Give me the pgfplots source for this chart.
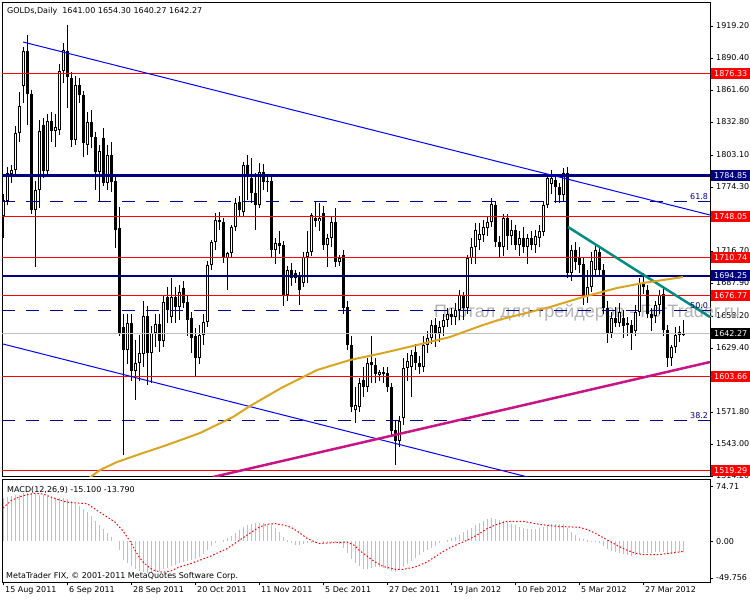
\documentclass[border=0pt]{standalone}
\usepackage{fontspec}
\setmainfont{DejaVu Sans}
\newfontfamily\wmfont{Liberation Sans}
\usepackage{pgfplots}
\pgfplotsset{compat=1.18}
\usepackage{pgfplotstable}

\definecolor{mtnavy}{RGB}{0,0,128}
\definecolor{mtblue}{RGB}{0,0,255}
\definecolor{mtgold}{RGB}{218,165,32}
\definecolor{mtmag}{RGB}{199,21,133}
\definecolor{mtteal}{RGB}{0,140,130}
\definecolor{mtsilver}{RGB}{192,192,192}
\definecolor{wmgray}{RGB}{180,180,180}
\newcommand\mtfont{\fontsize{8}{9.6}\selectfont}

% daily bars: index, open, high, low, close
\pgfplotstableread{
i o h l c
0 1748 1768 1728 1763
1 1762 1792 1758 1787
2 1786 1794 1778 1790
3 1790 1829 1786 1823
4 1823 1860 1815 1847
5 1865 1900 1850 1897
6 1897 1911 1830 1858
7 1858 1862 1750 1754
8 1754 1780 1702 1772
9 1772 1835 1755 1825
10 1830 1836 1782 1789
11 1789 1840 1784 1834
12 1834 1842 1815 1825
13 1825 1840 1810 1828
14 1826 1885 1821 1879
15 1879 1904 1868 1898
16 1897 1920 1845 1873
17 1872 1878 1810 1817
18 1817 1874 1812 1866
19 1866 1872 1850 1857
20 1857 1861 1801 1814
21 1812 1842 1803 1833
22 1833 1844 1809 1819
23 1819 1824 1772 1788
24 1788 1812 1761 1807
25 1818 1827 1775 1778
26 1778 1812 1772 1803
27 1803 1815 1770 1779
28 1780 1783 1719 1736
29 1737 1756 1640 1643
30 1648 1660 1533 1628
31 1628 1660 1615 1652
32 1652 1660 1600 1609
33 1609 1637 1583 1616
34 1616 1641 1600 1625
35 1624 1672 1612 1658
36 1658 1667 1596 1625
37 1625 1649 1598 1643
38 1643 1660 1630 1651
39 1651 1660 1626 1636
40 1636 1677 1630 1671
41 1675 1684 1652 1664
42 1657 1692 1652 1675
43 1675 1684 1652 1666
44 1666 1686 1655 1680
45 1683 1690 1665 1670
46 1671 1676 1640 1655
47 1656 1662 1625 1638
48 1640 1647 1603 1620
49 1620 1650 1615 1641
50 1641 1660 1632 1653
51 1653 1708 1648 1704
52 1704 1727 1700 1725
53 1725 1751 1718 1745
54 1745 1752 1736 1743
55 1743 1746 1706 1710
56 1710 1716 1682 1715
57 1715 1740 1710 1738
58 1738 1764 1735 1760
59 1761 1766 1748 1754
60 1752 1797 1748 1794
61 1794 1803 1763 1783
62 1782 1800 1760 1769
63 1769 1787 1736 1758
64 1758 1796 1755 1788
65 1788 1795 1772 1779
66 1780 1786 1770 1779
67 1780 1784 1710 1718
68 1718 1728 1705 1724
69 1724 1735 1714 1721
70 1722 1726 1667 1677
71 1677 1703 1672 1700
72 1700 1706 1685 1692
73 1697 1700 1688 1692
74 1695 1698 1668 1682
75 1688 1716 1684 1711
76 1711 1735 1688 1716
77 1716 1751 1712 1749
78 1746 1762 1738 1744
79 1744 1760 1735 1746
80 1751 1757 1718 1722
81 1722 1732 1702 1728
82 1728 1748 1720 1743
83 1743 1755 1702 1707
84 1707 1713 1703 1710
85 1713 1718 1660 1665
86 1666 1672 1628 1632
87 1632 1640 1572 1576
88 1574 1594 1562 1578
89 1576 1602 1572 1598
90 1601 1612 1585 1594
91 1594 1620 1590 1616
92 1617 1640 1598 1614
93 1614 1620 1598 1606
94 1605 1610 1600 1608
95 1608 1612 1598 1606
96 1607 1612 1590 1594
97 1594 1598 1550 1555
98 1556 1565 1524 1546
99 1546 1568 1540 1564
100 1566 1620 1560 1611
101 1611 1625 1600 1618
102 1612 1628 1585 1623
103 1626 1633 1610 1616
104 1616 1622 1606 1612
105 1612 1640 1608 1632
106 1632 1645 1625 1638
107 1638 1655 1633 1650
108 1650 1656 1630 1643
109 1643 1654 1635 1648
110 1648 1660 1640 1655
111 1655 1665 1648 1660
112 1660 1665 1650 1657
113 1657 1670 1650 1664
114 1664 1682 1655 1677
115 1677 1680 1655 1665
116 1665 1713 1660 1710
117 1710 1728 1705 1720
118 1720 1742 1705 1736
119 1727 1742 1718 1732
120 1731 1745 1725 1738
121 1737 1748 1730 1743
122 1743 1764 1738 1759
123 1758 1762 1720 1725
124 1725 1730 1710 1720
125 1720 1750 1712 1746
126 1746 1750 1718 1730
127 1730 1745 1722 1736
128 1736 1740 1718 1722
129 1722 1735 1712 1728
130 1728 1738 1715 1720
131 1720 1732 1705 1728
132 1728 1735 1718 1722
133 1722 1736 1715 1730
134 1728 1740 1720 1735
135 1734 1762 1730 1758
136 1758 1785 1755 1782
137 1777 1790 1768 1782
138 1781 1784 1760 1774
139 1774 1778 1760 1767
140 1767 1791 1762 1787
141 1787 1792 1692 1697
142 1697 1722 1690 1718
143 1718 1725 1700 1707
144 1710 1720 1697 1704
145 1705 1710 1668 1676
146 1676 1700 1670 1684
147 1684 1716 1680 1708
148 1700 1722 1695 1718
149 1716 1720 1695 1700
150 1700 1705 1660 1665
151 1665 1672 1634 1643
152 1643 1662 1638 1656
153 1656 1666 1648 1652
154 1652 1670 1648 1662
155 1656 1664 1638 1649
156 1652 1657 1640 1650
157 1650 1655 1628 1643
158 1645 1668 1640 1662
159 1662 1692 1658 1688
160 1688 1697 1678 1684
161 1682 1686 1656 1660
162 1660 1665 1645 1656
163 1658 1672 1652 1668
164 1668 1682 1660 1677
165 1678 1683 1640 1646
166 1646 1650 1612 1620
167 1620 1632 1613 1630
168 1630 1648 1625 1641
169 1644 1649 1635 1641
170 1641.00 1654.30 1640.27 1642.27
}\candles

% MACD main (histogram)
\pgfplotstableread{
i v
0 58
1 60
2 61
3 62
4 63
5 65
6 66
7 65
8 64
9 63
10 62
11 61
12 60
13 59
14 59
15 58
16 57
17 54
18 51
19 48
20 44
21 39
22 34
23 28
24 22
25 16
26 11
27 6
28 0
29 -12
30 -25
31 -30
32 -34
33 -37
34 -40
35 -42
36 -43
37 -43
38 -42
39 -40
40 -38
41 -36
42 -34
43 -32
44 -30
45 -28
46 -27
47 -26
48 -24
49 -21
50 -17
51 -12
52 -7
53 -3
54 0
55 2
56 4
57 7
58 11
59 15
60 19
61 22
62 24
63 25
64 25
65 25
66 24
67 22
68 18
69 12
70 6
71 2
72 -2
73 -5
74 -5
75 -4
76 -3
77 -1
78 -1
79 0
80 -1
81 -1
82 -1
83 -2
84 -4
85 -9
86 -16
87 -24
88 -30
89 -34
90 -37
91 -37
92 -36
93 -35
94 -35
95 -36
96 -38
97 -40
98 -41
99 -39
100 -35
101 -31
102 -27
103 -23
104 -19
105 -15
106 -12
107 -9
108 -6
109 -3
110 0
111 2
112 4
113 6
114 9
115 12
116 15
117 18
118 22
119 25
120 28
121 30
122 31
123 30
124 29
125 28
126 26
127 24
128 22
129 20
130 18
131 17
132 17
133 17
134 18
135 20
136 22
137 23
138 23
139 24
140 24
141 18
142 12
143 8
144 5
145 3
146 2
147 1
148 1
149 -2
150 -6
151 -11
152 -13
153 -15
154 -16
155 -17
156 -19
157 -20
158 -19
159 -17
160 -16
161 -16
162 -16
163 -15
164 -15
165 -15
166 -16
167 -16
168 -15
169 -15
170 -15.1
}\macdhist

% MACD signal line
\pgfplotstableread{
i s
0 45
2 55
4 60
6 63
8 65
10 64
12 60
14 56
16 53
18 52
21 51
24 40
26 33
28 26
30 14
31 6
32 -2
33 -12
34 -21
35 -28
36 -33
37 -37
38 -40
40 -42
42 -40
44 -35
47 -30
49 -26
52 -20
54 -15
56 -10
59 1
62 12
64 19
66 23
68 24
70 22
72 19
74 12
76 4
78 -1
79 -3
82 -2
86 -1
88 -6
89 -12
91 -20
93 -28
95 -34
98 -38
100 -38
103 -35
106 -28
108 -21
110 -14
112 -8
115 -1
117 4
119 10
121 17
123 22
126 27
130 27
134 23
137 21
139 20
144 19
146 16
148 11
150 5
152 -1
154 -7
156 -12
158 -16
160 -18
164 -18
167 -16
170 -13.79
}\macdsig

\begin{document}
\begin{tikzpicture}

% ---------------- price panel ----------------
\begin{axis}[
  at={(2pt,-2pt)}, anchor=north west,
  scale only axis, width=708pt, height=474pt,
  xmin=-0.25, xmax=176.75, ymin=1514.2, ymax=1940.8,
  set layers, clip mode=individual,
  axis line style={black, line width=1pt},
  xtick=\empty,
  ytick pos=right, yticklabel pos=right,
  tick align=outside, major tick length=3pt,
  tick style={black, line width=0.8pt},
  ytick={1919.2,1890.4,1861.6,1832.8,1803.1,1774.3,1745.5,1716.7,1687.9,1658.2,1629.4,1600.6,1571.8,1543.0,1514.2},
  yticklabels={1919.20,1890.40,1861.60,1832.80,1803.10,1774.30,1745.50,1716.70,1687.90,1658.20,1629.40,1600.60,1571.80,1543.00,1514.20},
  yticklabel style={font=\mtfont, inner sep=0pt, anchor=west, xshift=3pt},
]
% watermark
\node[anchor=base west, inner sep=0pt, text=wmgray, font=\wmfont\fontsize{18}{20}\selectfont]
  at (axis cs:107.75,1657.3) {Портал для трейдеров - ForTrader.ru};

% candles: wicks, bodies, hollow insides
\addplot[draw=none, no markers, forget plot,
  error bars/.cd, y dir=both, y explicit, error mark=none,
  error bar style={draw=black, line width=1pt}]
  table[x=i, y expr={(\thisrow{h}+\thisrow{l})/2}, y error expr={(\thisrow{h}-\thisrow{l})/2}] {\candles};
\addplot[draw=none, no markers, forget plot,
  error bars/.cd, y dir=both, y explicit, error mark=none,
  error bar style={draw=black, line width=3pt}]
  table[x=i, y expr={(\thisrow{o}+\thisrow{c})/2}, y error expr={max(abs(\thisrow{c}-\thisrow{o})/2,0.5)}] {\candles};
\addplot[draw=none, no markers, forget plot,
  error bars/.cd, y dir=both, y explicit, error mark=none,
  error bar style={draw=white, line width=1pt}]
  table[x=i, y expr={(\thisrow{o}+\thisrow{c})/2}, y error expr={(\thisrow{c}>\thisrow{o})*max((\thisrow{c}-\thisrow{o})/2-0.9,0)}] {\candles};

% horizontal levels
\addplot[mtsilver, line width=1pt] coordinates {(-1,1642.27) (178,1642.27)};
\addplot[red, line width=1.3pt] coordinates {(-1,1876.33) (178,1876.33)};
\addplot[red, line width=1.3pt] coordinates {(-1,1748.05) (178,1748.05)};
\addplot[red, line width=1.3pt] coordinates {(-1,1710.74) (178,1710.74)};
\addplot[red, line width=1.3pt] coordinates {(-1,1676.77) (178,1676.77)};
\addplot[red, line width=1.3pt] coordinates {(-1,1603.66) (178,1603.66)};
\addplot[red, line width=1.3pt] coordinates {(-1,1519.29) (178,1519.29)};
\addplot[mtnavy, line width=1pt, dash pattern=on 13pt off 11pt] coordinates {(-0.25,1761.7) (178,1761.7)};
\addplot[mtnavy, line width=1pt, dash pattern=on 13pt off 11pt] coordinates {(-0.25,1663.6) (178,1663.6)};
\addplot[mtnavy, line width=1pt, dash pattern=on 13pt off 11pt] coordinates {(-0.25,1564.6) (178,1564.6)};
\addplot[mtnavy, line width=2.6pt] coordinates {(-1,1784.85) (178,1784.85)};
\addplot[mtnavy, line width=2.6pt] coordinates {(-1,1694.25) (178,1694.25)};

% channel lines
\addplot[mtblue, line width=1pt] coordinates {(5,1904.8) (176.75,1749.1)};
\addplot[mtblue, line width=1pt] coordinates {(0,1633.0) (176.75,1471.7)};
\addplot[mtmag, line width=2.5pt] coordinates {(52.5,1513.3) (176.75,1616.8)};
\addplot[mtteal, line width=2.5pt] coordinates {(141.25,1738.3) (176.75,1657.3)};

% moving average
\addplot[mtgold, line width=2pt] coordinates {
  (21,1511) (24.25,1519.6) (28.5,1526.8) (35,1534.9) (41,1542.1) (49.25,1552.9)
  (57.5,1567.3) (61.75,1577.2) (70,1594.3) (78.5,1609.6) (86.75,1618.6) (95,1624.9)
  (103.5,1632.1) (111.75,1639.3) (120,1650.1) (124.25,1655) (136.75,1666.3)
  (145,1675.3) (153.5,1683.4) (160,1687.9) (170,1693.3)};

% fibo labels
\node[anchor=south east, inner sep=0pt, text=mtnavy, font=\mtfont] at (axis cs:176.3,1763) {61.8};
\node[anchor=south east, inner sep=0pt, text=mtnavy, font=\mtfont] at (axis cs:176.3,1665) {50.0};
\node[anchor=south east, inner sep=0pt, text=mtnavy, font=\mtfont] at (axis cs:176.3,1566) {38.2};

% price tags on the scale
\tikzset{tag/.style={anchor=west, inner sep=0pt, minimum width=39pt, minimum height=11pt, text=white, font=\mtfont, xshift=1pt}}
\node[tag, fill=red] at (axis cs:176.75,1876.33) {1876.33};
\node[tag, fill=mtnavy] at (axis cs:176.75,1784.85) {1784.85};
\node[tag, fill=red] at (axis cs:176.75,1748.05) {1748.05};
\node[tag, fill=red] at (axis cs:176.75,1710.74) {1710.74};
\node[tag, fill=mtnavy] at (axis cs:176.75,1694.25) {1694.25};
\node[tag, fill=red] at (axis cs:176.75,1676.77) {1676.77};
\node[tag, fill=black] at (axis cs:176.75,1642.27) {1642.27};
\node[tag, fill=red] at (axis cs:176.75,1603.66) {1603.66};
\node[tag, fill=red] at (axis cs:176.75,1519.29) {1519.29};
\end{axis}

% ---------------- MACD panel ----------------
\begin{axis}[
  at={(2pt,-479pt)}, anchor=north west,
  scale only axis, width=708pt, height=103.5pt,
  xmin=-0.25, xmax=176.75, ymin=-55.8, ymax=84.3,
  set layers, clip mode=individual,
  axis line style={black, line width=1pt},
  xtick={0,16,32,48,64,80,96,112,128,144,160},
  xticklabels={15 Aug 2011,6 Sep 2011,28 Sep 2011,20 Oct 2011,11 Nov 2011,5 Dec 2011,27 Dec 2011,19 Jan 2012,10 Feb 2012,5 Mar 2012,27 Mar 2012},
  xtick pos=bottom,
  xticklabel style={font=\mtfont, inner sep=0pt, anchor=north west, xshift=2pt, yshift=-1pt},
  ytick={-49.756,0,74.71},
  yticklabels={-49.756,0.00,74.71},
  ytick pos=right, yticklabel pos=right,
  tick align=outside, major tick length=3pt,
  tick style={black, line width=0.8pt},
  yticklabel style={font=\mtfont, inner sep=0pt, anchor=west, xshift=3pt},
]
\addplot[draw=none, no markers, forget plot,
  error bars/.cd, y dir=both, y explicit, error mark=none,
  error bar style={draw=mtsilver, line width=1pt}]
  table[x=i, y expr={\thisrow{v}/2}, y error expr={abs(\thisrow{v})/2}] {\macdhist};
\addplot[red, line width=1pt, dash pattern=on 1.5pt off 2pt] table[x=i, y=s] {\macdsig};
\end{axis}

% panel captions
\node[anchor=west, inner sep=0pt, font=\mtfont] at (7pt,-11pt) {GOLDs,Daily\ \ 1641.00 1654.30 1640.27 1642.27};
\node[anchor=west, inner sep=0pt, font=\mtfont] at (7pt,-490pt) {MACD(12,26,9) -15.100 -13.790};
\node[anchor=west, inner sep=0pt, font=\mtfont] at (6pt,-576pt) {MetaTrader FIX, © 2001-2011 MetaQuotes Software Corp.};

\pgfresetboundingbox
\path[use as bounding box] (0pt,0pt) rectangle (750pt,-600pt);
\end{tikzpicture}
\end{document}
